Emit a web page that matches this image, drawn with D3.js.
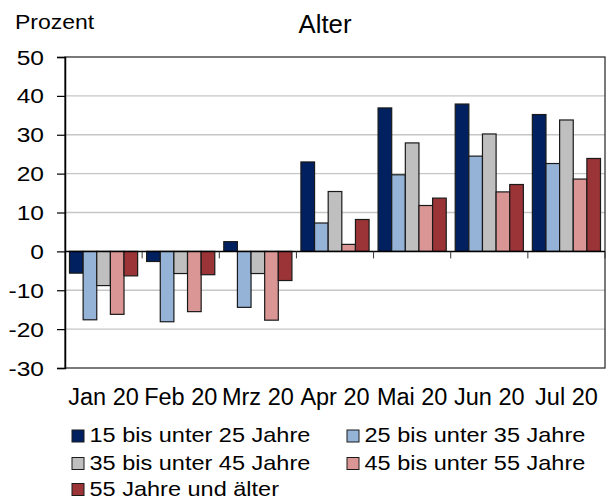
<!DOCTYPE html>
<html>
<head>
<meta charset="utf-8">
<script src="https://cdn.jsdelivr.net/npm/d3@7"></script>
<style>
  body { margin: 0; background: #fff; }
  text { font-family: "Liberation Sans", Arial, sans-serif; fill: #000; }
</style>
</head>
<body>
<div id="canvas"></div>
<script>
"use strict"

/* Data */
let months = ["Jan 20", "Feb 20", "Mrz 20", "Apr 20", "Mai 20", "Jun 20", "Jul 20"];
let seriesNames = ["15 bis unter 25 Jahre", "25 bis unter 35 Jahre", "35 bis unter 45 Jahre",
    "45 bis unter 55 Jahre", "55 Jahre und älter"];
let age15to25 = [-5.6, -2.6, 2.5, 23.0, 36.9, 37.9, 35.2];
let age25to35 = [-17.6, -18.1, -14.4, 7.3, 19.7, 24.5, 22.6];
let age35to45 = [-8.8, -5.7, -5.7, 15.4, 27.9, 30.2, 33.8];
let age45to55 = [-16.2, -15.5, -17.7, 1.8, 11.8, 15.3, 18.6];
let age55plus = [-6.3, -6.0, -7.5, 8.2, 13.7, 17.2, 23.9];
let yTicks = [-30, -20, -10, 0, 10, 20, 30, 40, 50];

let seriesValues = [age15to25, age25to35, age35to45, age45to55, age55plus];
let colors = ["#002060", "#95b3d7", "#bfbfbf", "#da9694", "#9b3437"];

/* Drawing configuration */
let svgWidth = 606;
let svgHeight = 499;
let plotLeft = 65, plotRight = 605, plotTop = 57, plotBottom = 368;

let svg = d3.select("#canvas")
    .append("svg")
    .attr("width", svgWidth)
    .attr("height", svgHeight);

let x = d3.scaleBand()
    .domain(months)
    .range([plotLeft, plotRight])
    .padding(0);

let xInner = d3.scaleBand()
    .domain(d3.range(seriesNames.length))
    .range([0, x.bandwidth()])
    .paddingInner(0)
    .paddingOuter(0.33);

let y = d3.scaleLinear()
    .domain([-30, 50])
    .range([plotBottom, plotTop]);

/* helper: text with a slight horizontal stretch like the original */
function addText(parent, str, px, py, size, anchor, sx) {
    return parent.append("text")
        .attr("transform", "translate(" + px + "," + py + ") scale(" + sx + ",1)")
        .attr("text-anchor", anchor)
        .style("font-size", size + "px")
        .text(str);
}

/* gridlines */
svg.append("g")
    .selectAll("line")
    .data(yTicks.filter(d => d !== 0 && d !== 50 && d !== -30))
    .join("line")
    .attr("x1", plotLeft)
    .attr("x2", plotRight)
    .attr("y1", d => y(d))
    .attr("y2", d => y(d))
    .attr("stroke", "#c6c6c6")
    .attr("stroke-width", 1.3);

/* bars */
let groups = svg.append("g")
    .selectAll("g")
    .data(seriesValues)
    .join("g")
    .attr("fill", (d, i) => colors[i]);

groups.selectAll("rect")
    .data((vals, si) => vals.map((v, mi) => ({ v: v, m: months[mi], s: si })))
    .join("rect")
    .attr("x", d => x(d.m) + xInner(d.s))
    .attr("width", xInner.bandwidth())
    .attr("y", d => y(Math.max(0, d.v)))
    .attr("height", d => Math.abs(y(d.v) - y(0)))
    .attr("stroke", "#1a1a1a")
    .attr("stroke-width", 1.2);

/* plot frame */
svg.append("rect")
    .attr("x", plotLeft)
    .attr("y", plotTop)
    .attr("width", plotRight - plotLeft)
    .attr("height", plotBottom - plotTop)
    .attr("fill", "none")
    .attr("stroke", "#333")
    .attr("stroke-width", 1.3);

/* y axis with ticks */
let yAxis = svg.append("g")
    .attr("transform", "translate(" + plotLeft + ",0)")
    .call(d3.axisLeft(y).tickValues(yTicks).tickSize(8).tickFormat(""));
yAxis.select(".domain").attr("stroke", "#000").attr("stroke-width", 1.5);
yAxis.selectAll(".tick line").attr("stroke", "#000").attr("stroke-width", 1.2);

yTicks.forEach(function (t) {
    addText(svg, String(t), 44, y(t) + 7.5, 21, "end", 1.17);
});

/* zero line and category ticks */
svg.append("line")
    .attr("x1", plotLeft).attr("x2", plotRight)
    .attr("y1", y(0)).attr("y2", y(0))
    .attr("stroke", "#000")
    .attr("stroke-width", 1.5);

svg.append("g")
    .selectAll("line")
    .data(months.slice(1).concat(["end"]))
    .join("line")
    .attr("x1", d => d === "end" ? plotRight : x(d))
    .attr("x2", d => d === "end" ? plotRight : x(d))
    .attr("y1", y(0))
    .attr("y2", y(0) + 7)
    .attr("stroke", "#333")
    .attr("stroke-width", 1);

/* category labels */
months.forEach(function (m) {
    addText(svg, m, x(m) + x.bandwidth() / 2, 405, 23.5, "middle", 1.0);
});

/* titles */
addText(svg, "Prozent", 15, 29, 20, "start", 1.15);
addText(svg, "Alter", 325, 33, 25, "middle", 1.03);

/* legend */
let legendPos = [[72, 442], [347, 442], [72, 469.5], [347, 469.5], [72, 495.5]];
seriesNames.forEach(function (name, i) {
    let p = legendPos[i];
    svg.append("rect")
        .attr("x", p[0])
        .attr("y", p[1] - 12)
        .attr("width", 12)
        .attr("height", 12)
        .attr("fill", colors[i])
        .attr("stroke", "#1a1a1a")
        .attr("stroke-width", 1);
    addText(svg, name, p[0] + 17.5, p[1], 21, "start", 1.12);
});
</script>
</body>
</html>
